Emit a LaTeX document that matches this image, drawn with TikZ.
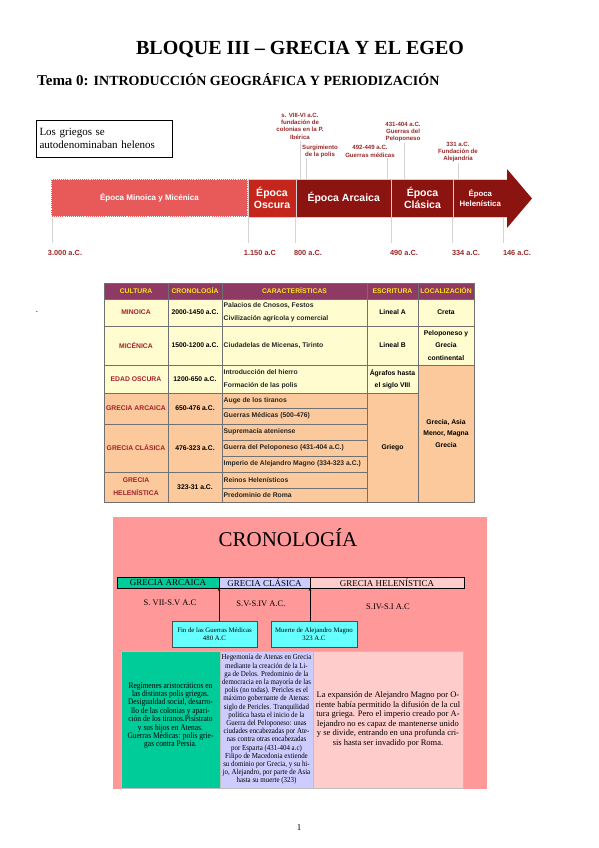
\documentclass[tikz,border=0pt]{standalone}
\usepackage{fontspec}
\setmainfont{Liberation Serif}
\newfontfamily\lsans{Liberation Sans}
\newfontfamily\condserif[FakeStretch=0.88]{Liberation Serif}
\newfontfamily\condserifb[FakeStretch=0.9]{Liberation Serif}
\usetikzlibrary{arrows.meta}
\definecolor{minoc}{HTML}{E85A5A}
\definecolor{oscc}{HTML}{C4261C}
\definecolor{darkc}{HTML}{8C1410}
\definecolor{tlred}{HTML}{9A2A2A}
\definecolor{tickc}{HTML}{D4D4D4}
\definecolor{thead}{HTML}{8E3A64}
\definecolor{tyel}{HTML}{FFE21A}
\definecolor{tcream}{HTML}{FFFDD0}
\definecolor{tpeach}{HTML}{FBC99B}
\definecolor{tcult}{HTML}{A3202C}
\definecolor{tline}{HTML}{707070}
\definecolor{cpink}{HTML}{FF9999}
\definecolor{cgreen}{HTML}{00CC99}
\definecolor{clav}{HTML}{CCCCFF}
\definecolor{clpink}{HTML}{FFCCCC}
\definecolor{ccyan}{HTML}{66FFFF}
\newcommand{\fs}[2]{\fontsize{#1}{#2}\selectfont}
\newcommand{\rnode}[7][]{\node[inner sep=0pt, outer sep=0pt, align=center, minimum width={(#5)-(#3)}, minimum height={(#6)-(#4)}, #1] (#2) at ({((#3)+(#5))/2},{((#4)+(#6))/2}) {#7};}
\tikzset{
 seg/.style={draw=white!82!black, line width=0.6pt, text=white, font=\lsans\bfseries\fs{10.5}{12}},
 ann/.style={text=tlred, font=\lsans\bfseries\fs{6.1}{7.3}, align=center, inner sep=0pt},
 datel/.style={text=tlred, font=\lsans\bfseries\fs{7.4}{8}, inner sep=0pt},
 tickl/.style={draw=tickc, line width=0.9pt},
 tcell/.style={draw=tline, line width=0.5pt, font=\lsans\bfseries\fs{6.8}{12.5}},
 thd/.style={tcell, fill=thead, text=tyel},
 tcul/.style={tcell, text=tcult},
 tleft/.style={font=\lsans\bfseries\fs{6.8}{12.5}, align=left, inner sep=0pt, anchor=west, text=black!85},
 cbar/.style={draw=black, line width=0.5pt, font=\fs{9}{9}},
 cper/.style={font=\fs{8.5}{9}, inner sep=0pt},
 cbox/.style={draw=black!70, line width=0.4pt, font=\fs{6.8}{8}},
 ctext/.style={draw=black!25, line width=0.3pt},
 ctxt/.style={align=center, inner sep=0pt},
}
\begin{document}
\begin{tikzpicture}[x=1pt,y=-1pt]
\useasboundingbox[fill=white] (0,0) rectangle (599,848);
% titles
\node (title) at (300,50) {\bfseries\fs{20}{22}BLOQUE III – GRECIA Y EL EGEO};
\node[anchor=west, inner sep=0pt] (sub) at (37,80) {\bfseries\fs{15}{17}Tema 0: \fs{14}{16}INTRODUCCIÓN GEOGRÁFICA Y PERIODIZACIÓN};
% note box
\node[draw=black, line width=0.6pt, minimum width=136pt, minimum height=37pt, text width=129pt, inner xsep=3.5pt, align=left, font=\fs{11}{13}] (helen) at (104,138.5) {Los griegos se\\autodenominaban helenos};
% timeline bar
\rnode[fill=minoc, text=white, font=\lsans\bfseries\fs{8}{9}]{mino}{51}{179}{248}{217}{Época Minoica y Micénica}
\draw[white, densely dotted, line width=1.1pt] (mino.north west) rectangle (mino.south east);
\rnode[seg, fill=oscc]{osc}{248}{179}{296}{217}{Época\\Oscura}
\rnode[seg, fill=darkc]{arc}{296}{179}{391.5}{217}{Época Arcaica}
\rnode[seg, fill=darkc]{cla}{391.5}{179}{453.5}{217}{Época\\Clásica}
\rnode[seg, fill=darkc, font=\lsans\bfseries\fs{7.8}{10}]{hel}{453.5}{179}{507}{217}{Época\\Helenística}
\fill[darkc] (507,169) -- (532,198.5) -- (507,228) -- cycle;
% ticks and dates
\coordinate (t1a) at (52,218); \coordinate (t1b) at (52,243);
\coordinate (t2a) at (248,218); \coordinate (t2b) at (248,243);
\coordinate (t3a) at (295,218); \coordinate (t3b) at (295,243);
\coordinate (t4a) at (391,218); \coordinate (t4b) at (391,243);
\coordinate (t5a) at (452,218); \coordinate (t5b) at (452,243);
\coordinate (t6a) at (503,218); \coordinate (t6b) at (503,243);
\foreach \i in {1,...,6} {\draw[tickl] (t\i a) -- (t\i b);}
\node[datel] (d1) at (65,253) {3.000 a.C.};
\node[datel] (d2) at (260,253) {1.150 a.C};
\node[datel] (d3) at (308,253) {800 a.C.};
\node[datel] (d4) at (404,253) {490 a.C.};
\node[datel] (d5) at (466,253) {334 a.C.};
\node[datel] (d6) at (517,253) {146 a.C.};
% annotations
\node[ann] (a1) at (300,126) {s. VIII-VI a.C.\\fundación de\\colonias en la P.\\Ibérica};
\node[ann] (a2) at (320,151.5) {Surgimiento\\de la polis};
\node[ann] (a3) at (370,151.5) {492-449 a.C.\\Guerras médicas};
\node[ann] (a4) at (403,132) {431-404 a.C.\\Guerras del\\Peloponeso};
\node[ann] (a5) at (458,152) {331 a.C.\\Fundación de\\Alejandría};
\coordinate (l1) at (300,141); \coordinate (l2) at (306,158); \coordinate (l3) at (387,158);
\coordinate (l4) at (404,143); \coordinate (l5) at (458,163);
\draw[tickl] (l1) -- (l1 |- arc.north);
\draw[tickl] (l2) -- (l2 |- arc.north);
\draw[tickl] (l3) -- (l3 |- arc.north);
\draw[tickl] (l4) -- (l4 |- cla.north);
\draw[tickl] (l5) -- (l5 |- hel.north);
% table
\node[inner sep=0pt] (dot) at (37,312) {\fs{9}{9}.};
\rnode[thd]{h1}{104}{283}{168}{299}{CULTURA}
\rnode[thd]{h2}{168}{283}{222}{299}{CRONOLOGÍA}
\rnode[thd]{h3}{222}{283}{367}{299}{CARACTERÍSTICAS}
\rnode[thd]{h4}{367}{283}{418}{299}{ESCRITURA}
\rnode[thd]{h5}{418}{283}{474}{299}{LOCALIZACIÓN}
\rnode[tcul,fill=tcream]{r1a}{104}{299}{168}{326}{MINOICA}
\rnode[tcell,fill=tcream]{r1b}{168}{299}{222}{326}{2000-1450 a.C.}
\rnode[tcell,fill=tcream]{r1c}{222}{299}{367}{326}{}
\node[tleft] (r1ct) at ([xshift=1.5pt]r1c.west) {Palacios de Cnosos, Festos\\Civilización agrícola y comercial};
\rnode[tcell,fill=tcream]{r1d}{367}{299}{418}{326}{Lineal A}
\rnode[tcell,fill=tcream]{r1e}{418}{299}{474}{326}{Creta}
\rnode[tcul,fill=tcream]{r2a}{104}{326}{168}{365}{MICÉNICA}
\rnode[tcell,fill=tcream]{r2b}{168}{326}{222}{365}{1500-1200 a.C.}
\rnode[tcell,fill=tcream]{r2c}{222}{326}{367}{365}{}
\node[tleft] (r2ct) at ([xshift=1.5pt]r2c.west) {Ciudadelas de Micenas, Tirinto};
\rnode[tcell,fill=tcream]{r2d}{367}{326}{418}{365}{Lineal B}
\rnode[tcell,fill=tcream]{r2e}{418}{326}{474}{365}{Peloponeso y\\Grecia\\continental}
\rnode[tcul,fill=tcream]{r3a}{104}{365}{168}{393}{EDAD OSCURA}
\rnode[tcell,fill=tcream]{r3b}{168}{365}{222}{393}{1200-650 a.C.}
\rnode[tcell,fill=tcream]{r3c}{222}{365}{367}{393}{}
\node[tleft] (r3ct) at ([xshift=1.5pt]r3c.west) {Introducción del hierro\\Formación de las polis};
\rnode[tcell,fill=tcream]{r3d}{367}{365}{418}{393}{Ágrafos hasta\\el siglo VIII}
\rnode[tcell,fill=tpeach,font=\lsans\bfseries\fs{6.8}{11.5}]{loc}{418}{365}{474}{502}{Grecia, Asia\\Menor, Magna\\Grecia}
\rnode[tcul,fill=tpeach]{r4a}{104}{393}{168}{424}{GRECIA ARCAICA}
\rnode[tcell,fill=tpeach]{r4b}{168}{393}{222}{424}{650-476 a.C.}
\rnode[tcell,fill=tpeach]{r4c}{222}{393}{367}{408}{}
\node[tleft] (r4ct) at ([xshift=1.5pt]r4c.west) {Auge de los tiranos};
\rnode[tcell,fill=tpeach]{r4d}{222}{408}{367}{424}{}
\node[tleft] (r4dt) at ([xshift=1.5pt]r4d.west) {Guerras Médicas (500-476)};
\rnode[tcell,fill=tpeach]{gri}{367}{393}{418}{502}{Griego}
\rnode[tcul,fill=tpeach]{r5a}{104}{424}{168}{472}{GRECIA CLÁSICA}
\rnode[tcell,fill=tpeach]{r5b}{168}{424}{222}{472}{476-323 a.C.}
\rnode[tcell,fill=tpeach]{r5c}{222}{424}{367}{440}{}
\node[tleft] (r5ct) at ([xshift=1.5pt]r5c.west) {Supremacía ateniense};
\rnode[tcell,fill=tpeach]{r5d}{222}{440}{367}{456}{}
\node[tleft] (r5dt) at ([xshift=1.5pt]r5d.west) {Guerra del Peloponeso (431-404 a.C.)};
\rnode[tcell,fill=tpeach]{r5e}{222}{456}{367}{472}{}
\node[tleft] (r5et) at ([xshift=1.5pt]r5e.west) {Imperio de Alejandro Magno (334-323 a.C.)};
\rnode[tcul,fill=tpeach,font=\lsans\bfseries\fs{6.8}{13}]{r6a}{104}{472}{168}{502}{GRECIA\\HELENÍSTICA}
\rnode[tcell,fill=tpeach]{r6b}{168}{472}{222}{502}{323-31 a.C.}
\rnode[tcell,fill=tpeach]{r6c}{222}{472}{367}{488}{}
\node[tleft] (r6ct) at ([xshift=1.5pt]r6c.west) {Reinos Helenísticos};
\rnode[tcell,fill=tpeach]{r6d}{222}{488}{367}{502}{}
\node[tleft] (r6dt) at ([xshift=1.5pt]r6d.west) {Predominio de Roma};
% cronologia
\rnode[fill=cpink]{cbg}{113}{517}{487}{789}{}
\node (ctitle) at (288,538) {\fs{21}{24}CRONOLOGÍA};
\rnode[cbar, fill=cgreen]{hA}{117}{577}{219}{588}{GRECIA ARCAICA}
\rnode[cbar, fill=clav]{hC}{219}{577}{310}{588}{GRECIA CLÁSICA}
\rnode[cbar, fill=clpink]{hH}{310}{577}{464}{588}{GRECIA HELENÍSTICA}
\node[cper] (pA) at (170,603) {S. VII-S.V A.C};
\node[cper] (pC) at (261,604) {S.V-S.IV A.C.};
\node[cper] (pH) at (388,607) {S.IV-S.I A.C};
\rnode[cbox, fill=ccyan]{fin}{172}{621}{257}{647}{Fin de las Guerras Médicas\\480 A.C}
\rnode[cbox, fill=ccyan]{mue}{271}{621}{357}{647}{Muerte de Alejandro Magno\\323 A.C}
\draw[black!80!red, line width=0.5pt, -{Stealth[length=3pt,width=2.5pt]}] (fin.north -| hA.east) -- (hA.south east);
\draw[black, line width=0.5pt, -{Stealth[length=3pt,width=2.5pt]}] (mue.north -| hC.east) -- (hC.south east);
\rnode[ctext, fill=cgreen]{bA}{121}{651}{220}{788}{}
\rnode[ctext, fill=clav]{bC}{220}{651}{313}{788}{}
\rnode[ctext, fill=clpink]{bH}{313}{651}{463}{788}{}
\node[ctxt, font=\condserif\fs{8.5}{8.4}] (bAt) at ([yshift=4pt]bA.center) {Regímenes aristocráticos en\\las distintas polis griegas.\\Desigualdad social, desarro-\\llo de las colonias y apari-\\ción de los tiranos.Pisístrato\\y sus hijos en Atenas.\\Guerras Médicas: polis grie-\\gas contra Persia.};
\node[ctxt, font=\condserifb\fs{7.7}{8.2}] (bCt) at (bC.center) {Hegemonía de Atenas en Grecia\\mediante la creación de la Li-\\ga de Delos. Predominio de la\\democracia en la mayoría de las\\polis (no todas). Pericles es el\\máximo gobernante de Atenas:\\siglo de Pericles. Tranquilidad\\política hasta el inicio de la\\Guerra del Peloponeso: unas\\ciudades encabezadas por Ate-\\nas contra otras encabezadas\\por Esparta (431-404 a.c)\\Filipo de Macedonia extiende\\su dominio por Grecia, y su hi-\\jo, Alejandro, por parte de Asia\\hasta su muerte (323)};
\node[ctxt, font=\fs{8.5}{9.5}] (bHt) at (bH.center) {La expansión de Alejandro Magno por O-\\riente había permitido la difusión de la cul\\tura griega. Pero el imperio creado por A-\\lejandro no es capaz de mantenerse unido\\y se divide, entrando en una profunda cri-\\sis hasta ser invadido por Roma.};
\node (pnum) at (299,828) {\fs{9}{10}1};
\end{tikzpicture}
\end{document}
